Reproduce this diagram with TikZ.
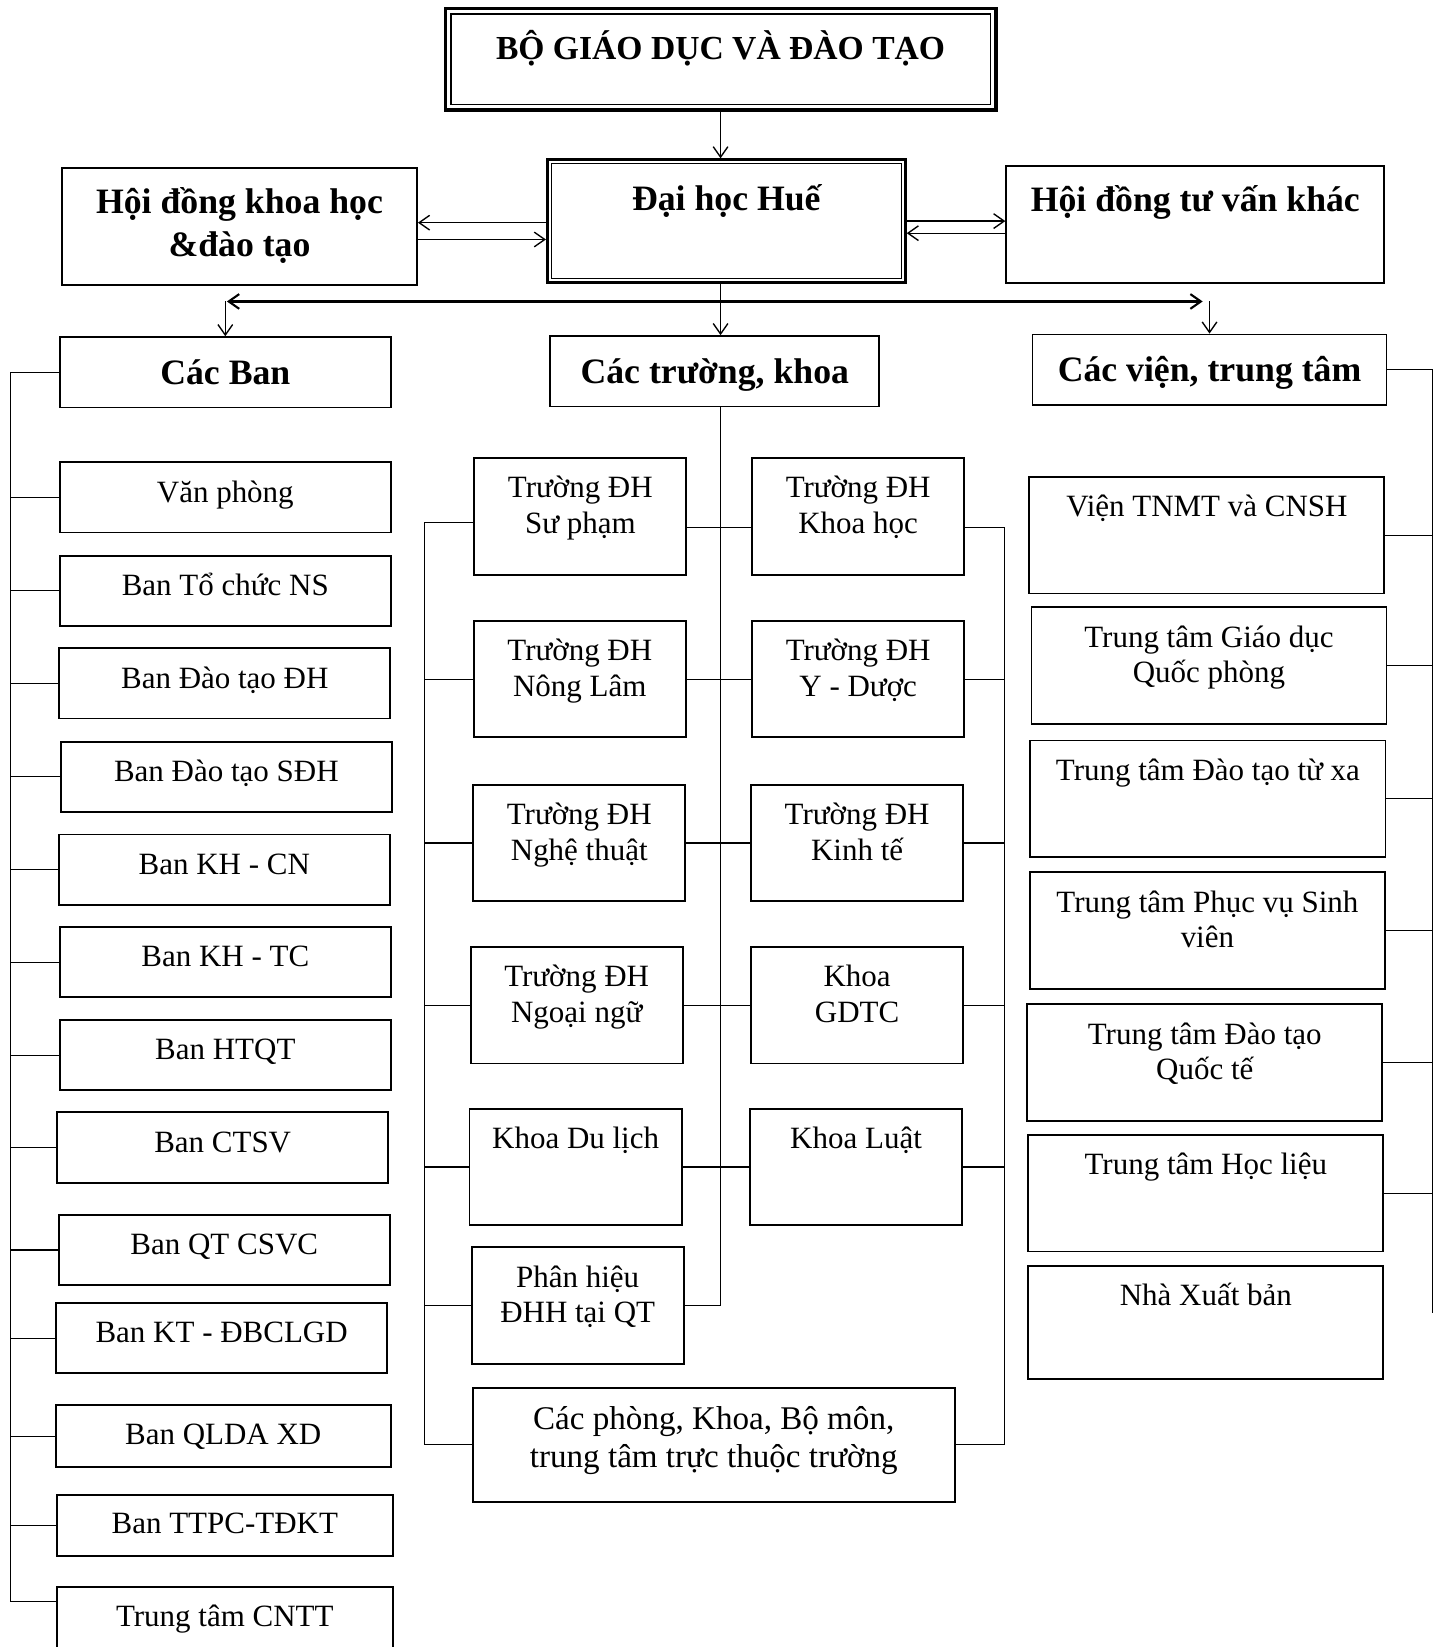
\documentclass[tikz,border=0pt]{standalone}
\usepackage{fontspec}
\setmainfont{Liberation Serif}
\usepackage{tikz}
\usetikzlibrary{positioning,arrows.meta}
\newcommand{\txtfont}{\fontsize{29.5}{34}\selectfont}
\newcommand{\bigtxtfont}{\fontsize{31.5}{36}\selectfont}
\newcommand{\headfont}{\fontsize{34}{41}\selectfont\bfseries}
\newcommand{\topfont}{\fontsize{32}{38}\selectfont\bfseries}

\begin{document}
\begin{tikzpicture}[x=1pt,y=1pt,
  every node/.style={inner sep=0pt,align=center},
  box/.style={draw,line width=1.8pt,font=\txtfont},
  ban/.style={box,minimum width=315pt,text height=38pt,text depth=29pt},
  unit/.style={box,minimum width=202pt,text height=38pt,text depth=73pt},
  vien/.style={box,minimum width=338pt,text height=38pt,text depth=73pt},
  two/.style={text height=72pt,text depth=39pt},
  head/.style={draw,line width=1.8pt,font=\headfont,text height=45pt,text depth=22pt},
  link/.style={line width=1.1pt},
  arr/.style={line width=1.3pt,-{Straight Barb[length=10pt,width=14pt]}},
  >={Straight Barb[length=10pt,width=14pt]}]
  \useasboundingbox (0,0) rectangle (1370,-1568);
  % top level
  \node[draw,line width=3.5pt,minimum width=524pt,font=\topfont,text height=49pt,text depth=48pt] (moet) at (686,-56.5) {BỘ GIÁO DỤC VÀ ĐÀO TẠO};
  \draw[line width=1.3pt] ([xshift=7pt,yshift=-7pt]moet.north west) rectangle ([xshift=-7pt,yshift=7pt]moet.south east);
  \node[draw,line width=2.5pt,minimum width=341pt,font=\headfont,text height=48pt,text depth=69pt] (dhh) at (691.5,-210.5) {Đại học Huế};
  \draw[line width=1.3pt] ([xshift=5pt,yshift=-5pt]dhh.north west) rectangle ([xshift=-5pt,yshift=5pt]dhh.south east);
  \node[head,minimum width=338pt,text height=84pt,text depth=27pt] (hdkh) at (228,-215.5) {Hội đồng khoa học\\\&đào tạo};
  \node[head,minimum width=360pt,text height=43pt,text depth=68pt] (hdtv) at (1138,-213.5) {Hội đồng tư vấn khác};
  \draw[arr] (moet.south) -- (moet.south |- dhh.north);
  \draw[arr] ([yshift=-1.5pt]dhh.west) -- ([yshift=-1.5pt]dhh.west -| hdkh.east);
  \draw[arr] ([yshift=-12.5pt]hdkh.east) -- ([yshift=-12.5pt]hdkh.east -| dhh.west);
  \draw[arr] (dhh.east) -- (dhh.east -| hdtv.west);
  \draw[arr] ([yshift=-11.5pt]dhh.east -| hdtv.west) -- ([yshift=-11.5pt]dhh.east);
  % second level
  \node[head,minimum width=315pt] (cacban) at (214.5,-354.5) {Các Ban};
  \node[head,minimum width=313pt] (cactruong) at (680.5,-353.5) {Các trường, khoa};
  \node[head,minimum width=337pt] (cacvien) at (1151.5,-352) {Các viện, trung tâm};
  \coordinate (hl) at (216,-287);
  \coordinate (hr) at (1145,-287);
  \coordinate (cv) at (686,0);
  \draw[line width=2pt,<->] (hl) -- (hr);
  \draw[arr] (dhh.south -| cv) -- (cactruong.north -| cv);
  \draw[arr] (cacban.north |- hl) -- (cacban.north);
  \draw[arr] (cacvien.north |- hr) -- (cacvien.north);
  % Cac Ban
  \node[ban] (vp) at (214.5,-473.5) {Văn phòng};
  \node[ban] (tc) at (214.5,-562.5) {Ban Tổ chức NS};
  \node[ban] (dtdh) at (214,-650.5) {Ban Đào tạo ĐH};
  \node[ban] (sdh) at (215.5,-739.5) {Ban Đào tạo SĐH};
  \node[ban] (khcn) at (213.5,-828) {Ban KH - CN};
  \node[ban] (khtc) at (214.5,-916) {Ban KH - TC};
  \node[ban] (htqt) at (214.5,-1004.5) {Ban HTQT};
  \node[ban] (ctsv) at (212,-1092.5) {Ban CTSV};
  \node[ban] (qtcsvc) at (213.5,-1190) {Ban QT CSVC};
  \node[ban] (ktdb) at (211,-1274) {Ban KT - ĐBCLGD};
  \node[ban,minimum width=319pt,text height=37pt,text depth=22pt] (qlda) at (212.5,-1367.5) {Ban QLDA XD};
  \node[ban,minimum width=320pt,text height=37pt,text depth=21pt] (ttpc) at (214,-1452) {Ban TTPC-TĐKT};
  \node[ban,minimum width=320pt,text height=37pt,text depth=45pt] (cntt) at (214,-1552) {Trung tâm CNTT};
  \coordinate (lend) at (10,-1525);
  \draw[link] (cacban.west) -| (lend) -- (lend -| cntt.west);
  \draw[link] (vp.west) -- (vp.west -| lend) (tc.west) -- (tc.west -| lend)
    (dtdh.west) -- (dtdh.west -| lend) (sdh.west) -- (sdh.west -| lend)
    (khcn.west) -- (khcn.west -| lend) (khtc.west) -- (khtc.west -| lend)
    (htqt.west) -- (htqt.west -| lend) (ctsv.west) -- (ctsv.west -| lend)
    (qtcsvc.west) -- (qtcsvc.west -| lend) (ktdb.west) -- (ktdb.west -| lend)
    (qlda.west) -- (qlda.west -| lend) (ttpc.west) -- (ttpc.west -| lend);
  % Cac truong, khoa
  \node[unit,two] (sp) at (552.5,-491.5) {Trường ĐH\\Sư phạm};
  \node[unit,two] (kh) at (817,-491.5) {Trường ĐH\\Khoa học};
  \node[unit,two] (nl) at (552,-646.5) {Trường ĐH\\Nông Lâm};
  \node[unit,two] (yd) at (817,-646.5) {Trường ĐH\\Y - Dược};
  \node[unit,two] (nt) at (551.5,-802.5) {Trường ĐH\\Nghệ thuật};
  \node[unit,two] (kt) at (816,-802.5) {Trường ĐH\\Kinh tế};
  \node[unit,two] (nn) at (549,-957) {Trường ĐH\\Ngoại ngữ};
  \node[unit,two] (gdtc) at (816,-957) {Khoa\\GDTC};
  \node[unit] (dl) at (548,-1111) {Khoa Du lịch};
  \node[unit] (luat) at (815,-1111) {Khoa Luật};
  \node[unit,two] (ph) at (550,-1243) {Phân hiệu\\ĐHH tại QT};
  \node[box,font=\bigtxtfont,minimum width=459pt,text height=76pt,text depth=33pt] (cacphong) at (679.5,-1375.5) {Các phòng, Khoa, Bộ môn,\\trung tâm trực thuộc trường};
  \coordinate (mlx) at (404,0);
  \coordinate (mrx) at (956,0);
  \draw[link] (cactruong.south -| cv) -- (cv |- ph.east) -- (ph.east);
  \draw[link] ([yshift=-11pt]sp.east) -- ([yshift=-11pt]kh.west);
  \draw[link] (nl.east) -- (yd.west) (nt.east) -- (kt.west) (nn.east) -- (gdtc.west) (dl.east) -- (luat.west);
  \draw[link] ([yshift=-6pt]sp.west) -- ([yshift=-6pt]sp.west -| mlx) -- (cacphong.west -| mlx) -- (cacphong.west);
  \draw[link] (nl.west) -- (nl.west -| mlx) (nt.west) -- (nt.west -| mlx)
    (nn.west) -- (nn.west -| mlx) (dl.west) -- (dl.west -| mlx) (ph.west) -- (ph.west -| mlx);
  \draw[link] ([yshift=-11pt]kh.east) -- ([yshift=-11pt]kh.east -| mrx) -- (cacphong.east -| mrx) -- (cacphong.east);
  \draw[link] (yd.east) -- (yd.east -| mrx) (kt.east) -- (kt.east -| mrx)
    (gdtc.east) -- (gdtc.east -| mrx) (luat.east) -- (luat.east -| mrx);
  % Cac vien, trung tam
  \node[vien] (tnmt) at (1149,-509.5) {Viện TNMT và CNSH};
  \node[vien,two] (gdqp) at (1151,-633.5) {Trung tâm Giáo dục\\Quốc phòng};
  \node[vien] (txa) at (1150,-760.5) {Trung tâm Đào tạo từ xa};
  \node[vien,two] (pvsv) at (1149.5,-886) {Trung tâm Phục vụ Sinh\\viên};
  \node[vien,two] (dtqt) at (1147,-1011.5) {Trung tâm Đào tạo\\Quốc tế};
  \node[vien] (hlieu) at (1148,-1136) {Trung tâm Học liệu};
  \node[vien,text depth=70pt] (nxb) at (1148,-1259) {Nhà Xuất bản};
  \coordinate (rend) at (1364,-1250);
  \draw[link] (cacvien.east) -| (rend);
  \draw[link] (tnmt.east) -- (tnmt.east -| rend) (gdqp.east) -- (gdqp.east -| rend)
    (txa.east) -- (txa.east -| rend) (pvsv.east) -- (pvsv.east -| rend)
    (dtqt.east) -- (dtqt.east -| rend) (hlieu.east) -- (hlieu.east -| rend);
\end{tikzpicture}
\end{document}
